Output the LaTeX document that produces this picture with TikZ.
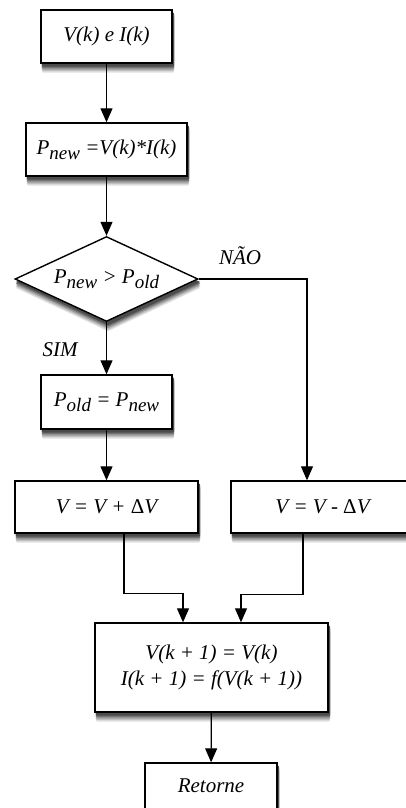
\documentclass[tikz,border=0pt]{standalone}
\usepackage{fontspec}
\setmainfont{Liberation Serif}
\usepackage{tikz}
\usetikzlibrary{arrows.meta,backgrounds,calc,shapes.geometric}

% lowered index, as in P_new
\newcommand{\idx}[1]{\raisebox{-0.55ex}{\fontsize{19}{19}\selectfont #1}}
\newcommand{\dlt}{{\upshape\symbol{"0394}}}

\begin{document}
\begin{tikzpicture}[
  x=1pt, y=-1pt,
  font=\fontsize{21}{26}\selectfont\itshape,
  box/.style={draw, line width=1.4pt, fill=white, align=center, inner sep=0pt},
  cond/.style={diamond, draw, line width=1.4pt, fill=white, aspect=2.15,
    minimum width=183pt, minimum height=85pt, inner sep=0pt},
  arr/.style={-{Triangle[length=14pt, width=12pt]}, line width=1.2pt},
  lbl/.style={inner sep=0pt}
]
\useasboundingbox (0,0) rectangle (406,808);

\node[box, minimum width=131pt, minimum height=53pt] (in) at (106.5,36.5) {V(k) e I(k)};
\node[box, minimum width=161pt, minimum height=53pt] (pnew) at (106.5,149.5) {P\idx{new} =V(k)*I(k)};
\node[cond] (cmp) at (106.5,279) {P\idx{new} > P\idx{old}};
\node[box, minimum width=131pt, minimum height=54pt] (pold) at (106.5,402) {P\idx{old} = P\idx{new}};
\node[box, minimum width=183pt, minimum height=52pt] (incv) at (106.5,507) {V = V + \dlt V};
\node[box, minimum width=183pt, minimum height=52pt] (decv) at (322.5,507) {V = V - \dlt V};
\node[box, minimum width=233pt, minimum height=89pt] (upd) at (211.5,667.5)
  {V(k + 1) = V(k)\\I(k + 1) = f(V(k + 1))};
\node[box, minimum width=132pt, minimum height=46pt] (ret) at (211,786) {Retorne};

\node[lbl] (nao) at (240,256) {NÃO};
\node[lbl] (sim) at (60,350) {SIM};

% soft shadows: grey layers, lighter the further down
\begin{scope}[on background layer]
  \foreach \d/\g in {9/12, 7.5/25, 6/40, 4.5/55, 3/70} {
    \foreach \n in {in,pnew,pold,incv,decv,upd,ret}
      \fill[black!\g, rounded corners=2pt]
        ($(\n.south west)+(1.5,\d)$) rectangle ($(\n.north east)+(1.5,\d)$);
    \fill[black!\g] ($(cmp.north)+(1.5,\d)$) -- ($(cmp.east)+(1.5,\d)$)
      -- ($(cmp.south)+(1.5,\d)$) -- ($(cmp.west)+(1.5,\d)$) -- cycle;
  }
\end{scope}

\draw[arr] (in) -- (pnew);
\draw[arr] (pnew) -- (cmp);
\draw[arr] (cmp) -- (pold);
\draw[arr] (pold) -- (incv);
\draw[arr] (cmp.east) -| ($(decv.north)+(-15.5,0)$);
\draw[arr] ($(incv.south)+(17.5,0)$) -- ++(0,60) -| ($(upd.north)+(-28.5,0)$);
\draw[arr] ($(decv.south)+(-19.5,0)$) -- ++(0,61) -| ($(upd.north)+(29.5,0)$);
\draw[arr] (upd) -- (ret);
\end{tikzpicture}
\end{document}
